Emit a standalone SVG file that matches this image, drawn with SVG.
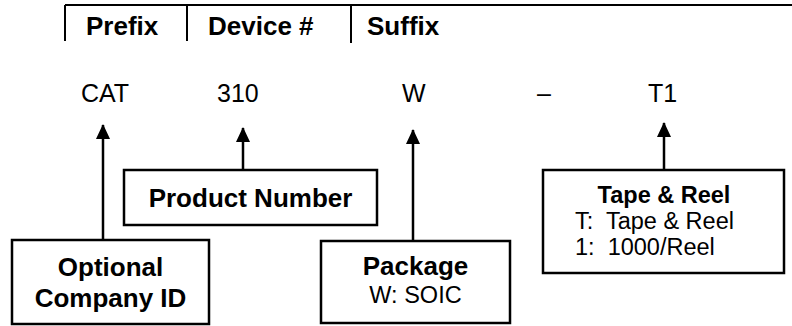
<svg xmlns="http://www.w3.org/2000/svg" width="792" height="326" viewBox="0 0 792 326">
<style>
  text { font-family: "Liberation Sans", Arial, sans-serif; fill: #000; }
  .b { font-weight: bold; font-size: 26px; }
  .r { font-size: 25px; }
  .s { font-size: 23.5px; }
  .sb { font-size: 23.5px; font-weight: bold; }
  .box { fill: #fff; stroke: #000; stroke-width: 2.5; }
  .ln { stroke: #000; stroke-width: 2; fill: none; }
  .conn { stroke: #000; stroke-width: 2.5; fill: none; marker-end: url(#ah); }
</style>
<defs>
  <marker id="ah" markerUnits="userSpaceOnUse" markerWidth="15" markerHeight="14" viewBox="0 0 15 14" refX="14" refY="7" orient="auto">
    <path d="M0,0 L15,7 L0,14 Z" fill="#000"/>
  </marker>
</defs>
<g id="header">
  <path class="ln" d="M65,5 H792 M65,5 V41 M187,5 V41 M351,5 V43"/>
  <text class="b" x="86" y="35">Prefix</text>
  <text class="b" x="208" y="35">Device #</text>
  <text class="b" x="367" y="35">Suffix</text>
</g>
<g id="partnumber">
  <text class="r" x="81" y="102">CAT</text>
  <text class="r" x="217" y="102">310</text>
  <text class="r" x="402" y="102">W</text>
  <text class="r" x="537" y="102">–</text>
  <text class="r" x="648" y="102">T1</text>
</g>
<g id="connectors">
  <path class="conn" d="M103,240 V125"/>
  <path class="conn" d="M243,170 V128"/>
  <path class="conn" d="M413,241 V130"/>
  <path class="conn" d="M664,170 V123"/>
</g>
<g id="company">
  <rect class="box" x="12" y="240" width="197" height="84"/>
  <text class="b" x="110.5" y="276" text-anchor="middle">Optional</text>
  <text class="b" x="110.5" y="307" text-anchor="middle">Company ID</text>
</g>
<g id="product">
  <rect class="box" x="124" y="170" width="253" height="55"/>
  <text class="b" x="250.5" y="207" text-anchor="middle">Product Number</text>
</g>
<g id="package">
  <rect class="box" x="321" y="241" width="189" height="82"/>
  <text class="b" x="415.5" y="275" text-anchor="middle">Package</text>
  <text class="s" x="415.5" y="303" text-anchor="middle">W: SOIC</text>
</g>
<g id="tapereel">
  <rect class="box" x="543" y="170" width="241" height="103"/>
  <text class="sb" x="664" y="203" text-anchor="middle">Tape &amp; Reel</text>
  <text class="s" x="575" y="229" xml:space="preserve">T:  Tape &amp; Reel</text>
  <text class="s" x="575" y="255" xml:space="preserve">1:  1000/Reel</text>
</g>
</svg>
